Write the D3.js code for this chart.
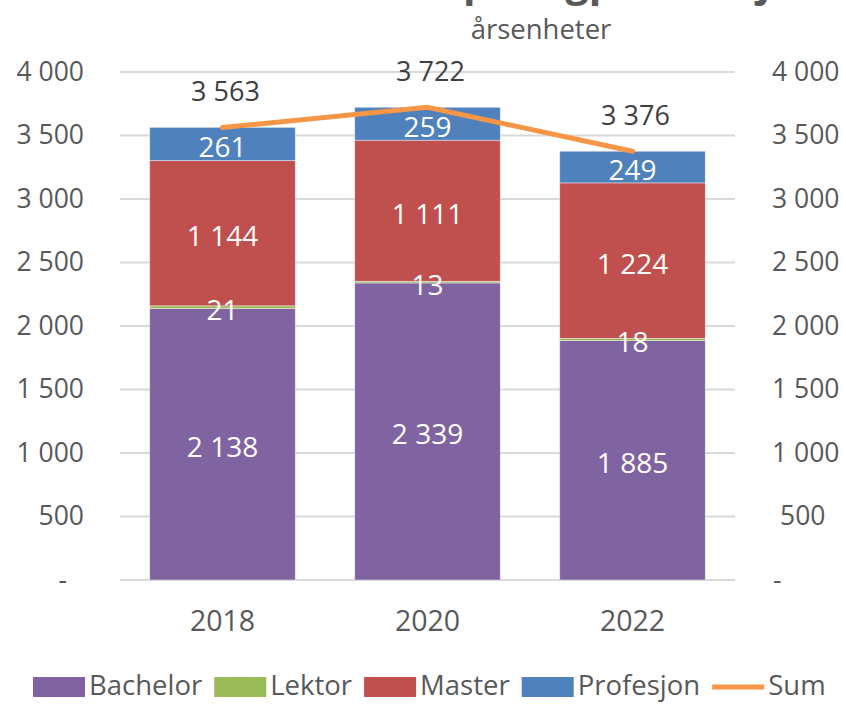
<!DOCTYPE html>
<html>
<head>
<meta charset="utf-8">
<script src="https://cdn.jsdelivr.net/npm/d3@7"></script>
<style>
  body { margin: 0; background: #fff; }
  svg { font-family: 'Open Sans', 'Noto Sans', sans-serif; }
</style>
</head>
<body>
<svg width="846" height="704"></svg>
<script>
// data
let years = ['2018', '2020', '2022']
let bachelor = [2138, 2339, 1885]
let lektor = [21, 13, 18]
let master = [1144, 1111, 1224]
let profesjon = [261, 259, 249]
let sum = [3563, 3722, 3376]
let seriesNames = ['Bachelor', 'Lektor', 'Master', 'Profesjon']
let yTicks = [0, 500, 1000, 1500, 2000, 2500, 3000, 3500, 4000]

let svg = d3.select('svg')

let colors = { Bachelor: '#8064A2', Lektor: '#9BBB59', Master: '#C0504D', Profesjon: '#4F81BD', Sum: '#F79646' }
let seriesData = { Bachelor: bachelor, Lektor: lektor, Master: master, Profesjon: profesjon }

let locale = d3.formatLocale({ decimal: ',', thousands: '\u00a0', grouping: [3], currency: ['', ' kr'] })
let fmt = locale.format(',d')
let tickFmt = d => d === 0 ? '-' : fmt(d)

// scales
let x = d3.scaleBand().domain(years).range([120, 735]).paddingInner(0.29).paddingOuter(0.145)
let y = d3.scaleLinear().domain([0, 4000]).range([580, 72])

// title (cut off at top, as in the original)
svg.append('text')
  .attr('x', 333).attr('y', -4)
  .attr('font-size', 41).attr('font-weight', 'bold')
  .attr('fill', '#595959')
  .text('Studiepoengproduksjon')
svg.append('text')
  .attr('x', 541).attr('y', 39)
  .attr('text-anchor', 'middle')
  .attr('font-size', 27.5).attr('fill', '#595959')
  .text('årsenheter')

// gridlines
svg.append('g')
  .selectAll('line')
  .data(yTicks)
  .enter()
  .append('line')
  .attr('x1', 120).attr('x2', 735)
  .attr('y1', d => y(d)).attr('y2', d => y(d))
  .attr('stroke', '#D9D9D9').attr('stroke-width', 2)

// left axis
let leftAxis = d3.axisLeft(y).tickValues(yTicks).tickFormat(tickFmt).tickSize(0).tickPadding(36)
let gl = svg.append('g').attr('transform', 'translate(120,0)').call(leftAxis)
gl.select('.domain').remove()
gl.selectAll('text')
  .attr('font-size', 26.5).attr('fill', '#595959')
  .attr('font-family', "'Open Sans', sans-serif")
  .attr('dx', d => d === 0 ? -17 : 0)

// right axis
let rightAxis = d3.axisRight(y).tickValues(yTicks).tickFormat(tickFmt).tickSize(0).tickPadding(37)
let gr = svg.append('g').attr('transform', 'translate(735,0)').call(rightAxis)
gr.select('.domain').remove()
gr.selectAll('text')
  .attr('font-size', 26.5).attr('fill', '#595959')
  .attr('font-family', "'Open Sans', sans-serif")
  .attr('dx', d => d === 0 ? 1 : (d < 1000 ? 8 : 0))

// x axis labels
let bottomAxis = d3.axisBottom(x).tickSize(0).tickPadding(31)
let gb = svg.append('g').attr('transform', 'translate(0,' + y(0) + ')').call(bottomAxis)
gb.select('.domain').remove()
gb.selectAll('text')
  .attr('font-size', 28.5).attr('fill', '#595959')
  .attr('font-family', "'Open Sans', sans-serif")

// stacked bars
let table = years.map((yr, i) => {
  let row = { year: yr }
  seriesNames.forEach(s => { row[s] = seriesData[s][i] })
  return row
})
let stacked = d3.stack().keys(seriesNames)(table)

let groups = svg.append('g')
  .selectAll('g')
  .data(stacked)
  .enter()
  .append('g')
  .attr('fill', d => colors[d.key])

groups.selectAll('rect')
  .data(d => d)
  .enter()
  .append('rect')
  .attr('x', d => x(d.data.year))
  .attr('width', x.bandwidth())
  .attr('y', d => y(d[1]))
  .attr('height', d => y(d[0]) - y(d[1]))
  .attr('stroke', '#ffffff').attr('stroke-opacity', 0.5).attr('stroke-width', 0.8)

// segment labels, drawn after all rects so the small ones stay on top
let segLabels = []
stacked.forEach(s => {
  s.forEach(v => segLabels.push({ key: s.key, v: v }))
})
svg.append('g')
  .selectAll('text')
  .data(segLabels)
  .enter()
  .append('text')
  .attr('x', d => x(d.v.data.year) + x.bandwidth() / 2)
  .attr('y', d => (y(d.v[0]) + y(d.v[1])) / 2 + 2)
  .attr('text-anchor', 'middle')
  .attr('dominant-baseline', 'central')
  .attr('font-size', 28).attr('fill', '#ffffff')
  .text(d => fmt(d.v.data[d.key]))

// sum line
let line = d3.line()
  .x((d, i) => x(years[i]) + x.bandwidth() / 2)
  .y(d => y(d))
svg.append('path')
  .datum(sum)
  .attr('d', line)
  .attr('fill', 'none')
  .attr('stroke', colors.Sum)
  .attr('stroke-width', 5)
  .attr('stroke-linecap', 'round')

// sum labels
svg.append('g')
  .selectAll('text')
  .data(sum)
  .enter()
  .append('text')
  .attr('x', (d, i) => x(years[i]) + x.bandwidth() / 2 + 3)
  .attr('y', d => y(d) - 26)
  .attr('text-anchor', 'middle')
  .attr('font-size', 27).attr('fill', '#404040')
  .text(d => fmt(d))

// legend
let legendItems = seriesNames.concat(['Sum'])
let lx = 33
let legend = svg.append('g')
legendItems.forEach(name => {
  if (name === 'Sum') {
    legend.append('line')
      .attr('x1', lx).attr('x2', lx + 52)
      .attr('y1', 687).attr('y2', 687)
      .attr('stroke', colors.Sum).attr('stroke-width', 5)
  } else {
    legend.append('rect')
      .attr('x', lx).attr('y', 677)
      .attr('width', 52).attr('height', 20)
      .attr('fill', colors[name])
  }
  let t = legend.append('text')
    .attr('x', lx + 56).attr('y', 695)
    .attr('font-size', 27.5).attr('fill', '#595959')
    .text(name)
  lx = lx + 56 + t.node().getComputedTextLength() + 12
})
</script>
</body>
</html>
